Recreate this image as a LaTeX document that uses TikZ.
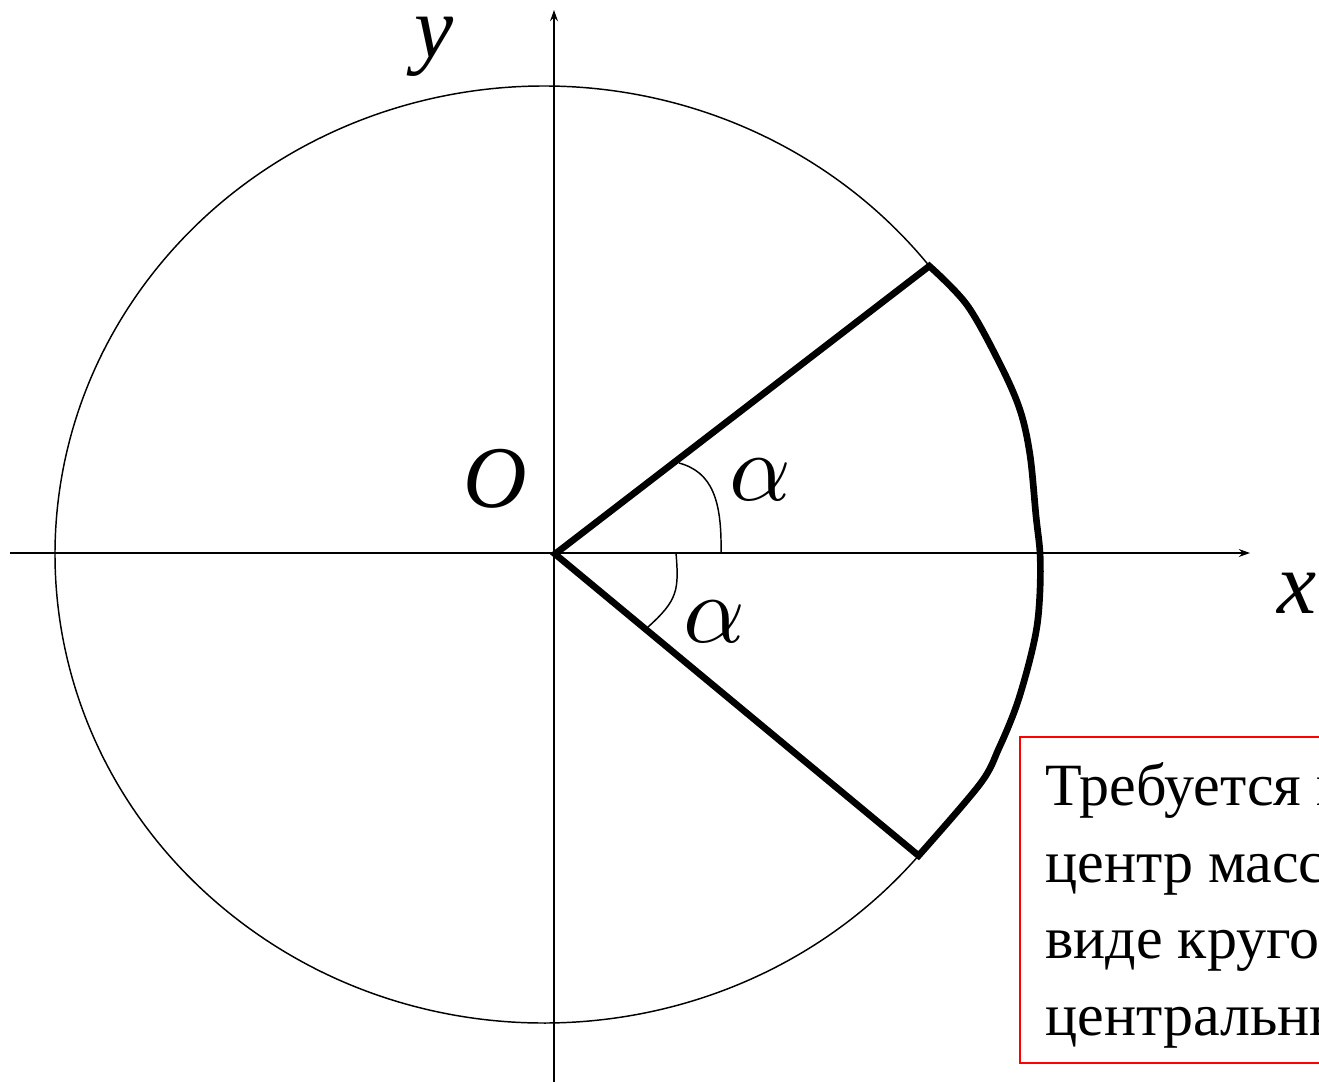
\documentclass[tikz,border=0pt]{standalone}
\usepackage{graphicx}
\usepackage{fontspec}
\setmainfont{Liberation Serif}
\usetikzlibrary{arrows.meta,calc}
\newcommand{\bigalpha}{{\fontsize{10}{10}\selectfont\scalebox{7.2}{$\alpha$}}}
\begin{document}
\begin{tikzpicture}[x=0.75pt,y=-0.75pt,
  thinline/.style={line width=1.1pt},
  axisline/.style={line width=1.1pt,-{Stealth[length=8.5pt,width=6pt,inset=3pt]}},
  sectorline/.style={line width=5pt,line join=miter},
  lbl/.style={font=\fontsize{66}{66}\selectfont\itshape,inner sep=0pt,anchor=base},
  albl/.style={inner sep=0pt,anchor=base},
  txt/.style={font=\fontsize{45}{57}\selectfont,inner sep=0pt,anchor=base west},
  redbox/.style={draw=red,line width=1.1pt}]
\useasboundingbox (0,0) rectangle (1319,1081);
\clip (0,0) rectangle (1319,1081);

% coordinates
\coordinate (C) at (544,554.5);
\coordinate (O) at (555,554);
\coordinate (A) at ($(C)+(-38:489 and 468.5)$);
\coordinate (B) at ($(C)+(40:489 and 468.5)$);
\coordinate (xs) at (10,553);
\coordinate (xe) at (1250,553);
\coordinate (ys) at (554,1085);
\coordinate (ye) at (554,10);

% ellipse (part not covered by the sector arc)
\draw[thinline] (B) arc[start angle=40, end angle=322, x radius=489, y radius=468.5];

% axes
\draw[axisline] (xs) -- (xe);
\draw[axisline] (ys) -- (ye);

% sector
\draw[sectorline] (O) -- (A) -- plot[smooth,tension=0.55] coordinates {
  (A) (967,305) (1000,364) (1020,410) (1030,455) (1036,516) (1040,553)
  (1040,590) (1037,626) (1029,663) (1016,707) (999,748) (980,784) (B)}
  -- cycle;

% angle marks
\draw[thinline] (679,463) .. controls (712,472) and (722,500) .. (721,553);
\draw[thinline] (676,553) .. controls (679,590) and (678,600) .. (648,627);

% labels
\node[lbl] (lO) at (495,507) {O};
\node[albl] (la1) at (760,500) {\bigalpha};
\node[albl] (la2) at (714,642) {\bigalpha};
\node[lbl,text height=28pt] (ly) at (434,58) {y};
\node[lbl] (lx) at (1297,613) {x};

% text box
\draw[redbox] (1020,737) rectangle (1345,1063);
\node[txt] (t1) at (1045,805) {Требуется найти};
\node[txt] (t2) at (1045,882) {центр масс};
\node[txt] (t3) at (1045,958) {виде кругового};
\node[txt] (t4) at (1045,1035) {центральным};
\end{tikzpicture}
\end{document}
